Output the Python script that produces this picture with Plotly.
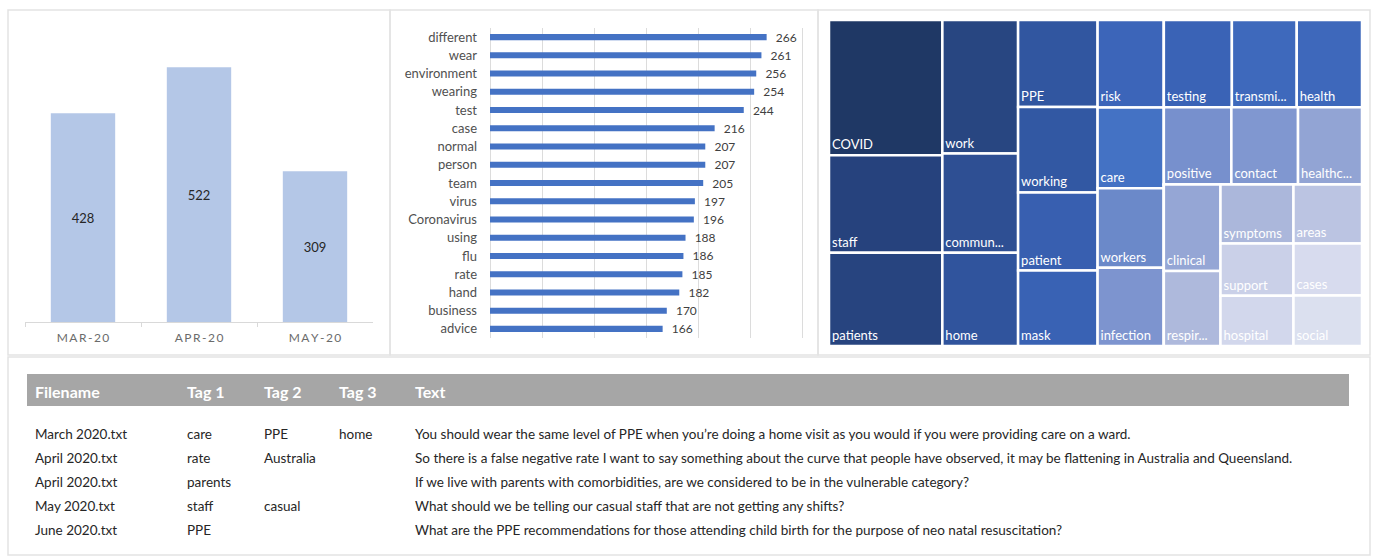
import plotly.graph_objects as go

W, H = 1373, 557
def px(x): return x / W
def py(y): return 1 - y / H

FONT = "Lato"

# ---------------- data ----------------
months = ["MAR-20", "APR-20", "MAY-20"]
month_counts = [428, 522, 309]

words = ["different", "wear", "environment", "wearing", "test", "case", "normal", "person",
         "team", "virus", "Coronavirus", "using", "flu", "rate", "hand", "business", "advice"]
word_counts = [266, 261, 256, 254, 244, 216, 207, 207, 205, 197, 196, 188, 186, 185, 182, 170, 166]

# treemap: groups (columns / rows) and leaves
tm_groups = ["g1", "g2", "g3", "g4", "g5", "g5r1", "g5r2", "g5r3", "g5r3a", "g5r3b", "g5r3c"]
tm_group_parents = ["", "", "", "", "", "g5", "g5", "g5", "g5r3", "g5r3", "g5r3"]
tm_labels = ["COVID", "staff", "patients",
             "work", "commun...", "home",
             "PPE", "working", "patient", "mask",
             "risk", "care", "workers", "infection",
             "testing", "transmi...", "health",
             "positive", "contact", "healthc...",
             "clinical", "respir...",
             "symptoms", "support", "hospital",
             "areas", "cases", "social"]
tm_parents = ["g1"] * 3 + ["g2"] * 3 + ["g3"] * 4 + ["g4"] * 4 + ["g5r1"] * 3 + ["g5r2"] * 3 + \
             ["g5r3a"] * 2 + ["g5r3b"] * 3 + ["g5r3c"] * 3
tm_values = [447, 323, 308,
             295, 219, 206,
             202, 198, 181, 175,
             169, 156, 154, 151,
             173, 165, 166,
             152, 150, 144,
             143, 124,
             126, 111, 107,
             118, 104, 101]

tbl_cols = ["Filename", "Tag 1", "Tag 2", "Tag 3", "Text"]
tbl_filename = ["March 2020.txt", "April 2020.txt", "April 2020.txt", "May 2020.txt", "June 2020.txt"]
tbl_tag1 = ["care", "rate", "parents", "staff", "PPE"]
tbl_tag2 = ["PPE", "Australia", "", "casual", ""]
tbl_tag3 = ["home", "", "", "", ""]
tbl_text = [
    "You should wear the same level of PPE when you\u2019re doing a home visit as you would if you were providing care on a ward.",
    "So there is a false negative rate I want to say something about the curve that people have observed, it may be flattening in Australia and Queensland.",
    "If we live with parents with comorbidities, are we considered to be in the vulnerable category?",
    "What should we be telling our casual staff that are not getting any shifts?",
    "What are the PPE recommendations for those attending child birth for the purpose of neo natal resuscitation?",
]

# ---------------- figure ----------------
fig = go.Figure()

# Chart 1: monthly counts
fig.add_trace(go.Bar(
    x=months, y=month_counts, xaxis="x", yaxis="y",
    marker=dict(color="#b4c7e7", line=dict(width=0)), width=0.555,
    text=month_counts, textposition="inside", insidetextanchor="middle",
    textfont=dict(family=FONT, size=13, color="#262626"), hoverinfo="x+y", showlegend=False,
))

# Chart 2: word frequency
fig.add_trace(go.Bar(
    x=word_counts, y=words, orientation="h", xaxis="x2", yaxis="y2",
    marker=dict(color="#4472c4", line=dict(width=0)), width=0.33,
    text=word_counts, texttemplate="\u00a0\u00a0%{x}", textposition="outside", cliponaxis=False,
    constraintext="none",
    textfont=dict(family=FONT, size=12, color="#404040"), showlegend=False,
))

# Chart 3: treemap
ids = tm_groups + tm_labels
parents = tm_group_parents + tm_parents
values = [0] * len(tm_groups) + tm_values
color_vals = [450] * len(tm_groups) + tm_values
texts = [""] * len(tm_groups) + tm_labels
fig.add_trace(go.Treemap(
    ids=ids, labels=ids, parents=parents, values=values, text=texts,
    texttemplate="%{text}", textposition="bottom left",
    textfont=dict(family=FONT, size=13, color="white"),
    sort=False, branchvalues="remainder",
    tiling=dict(packing="slice-dice", pad=0),
    pathbar=dict(visible=False),
    marker=dict(colors=color_vals, cmin=100, cmax=450, showscale=False,
                colorscale=[[0.0, "#dde1f0"], [0.02, "#d2d7ec"], [0.07, "#adb8dc"],
                            [0.12, "#98a8d6"], [0.145, "#7e95cf"], [0.155, "#6a88c9"],
                            [0.16, "#4472c4"], [0.2, "#3b64b8"], [0.29, "#3156a0"],
                            [0.35, "#2d4e90"], [0.57, "#284580"], [0.7, "#25407a"],
                            [1.0, "#1f3864"]],
                line=dict(color="white", width=2.5),
                pad=dict(t=0, l=0, r=0, b=0)),
    domain=dict(x=[px(829), px(1362)], y=[py(346), py(20)]),
    hoverinfo="text",
))

colw = [152, 77, 75, 76, 941]
# Table body
fig.add_trace(go.Table(
    domain=dict(x=[px(27), px(1348)], y=[py(552), py(405)]),
    columnwidth=colw,
    header=dict(values=["", "", "", "", ""], fill_color="white", line_color="white", height=16,
                font=dict(family=FONT, size=6, color="white")),
    cells=dict(values=[tbl_filename, tbl_tag1, tbl_tag2, tbl_tag3, tbl_text],
               fill_color="white", line_color="white", height=24, align="left",
               font=dict(family=FONT, size=13.5, color="#262626")),
))
# Table header bar
fig.add_trace(go.Table(
    domain=dict(x=[px(27), px(1348)], y=[py(406), py(374)]),
    columnwidth=colw,
    header=dict(values=["<b>%s</b>" % c for c in tbl_cols], fill_color="#a6a6a6",
                line_color="#a6a6a6", height=31, align="left",
                font=dict(family=FONT, size=16, color="white")),
    cells=dict(values=[[""] for _ in tbl_cols], fill_color="white", line_color="white", height=2),
))

# panel frames
panels = [(8, 10, 390, 355), (390, 10, 818, 355), (818, 10, 1370, 355), (8, 357, 1370, 555)]
shapes = [dict(type="rect", xref="paper", yref="paper", x0=px(a), x1=px(c), y0=py(d), y1=py(b),
               line=dict(color="#e3e3e3", width=1.5), fillcolor="rgba(0,0,0,0)", layer="below")
          for a, b, c, d in panels]

fig.update_layout(
    width=W, height=H, margin=dict(l=0, r=0, t=0, b=0),
    paper_bgcolor="white", plot_bgcolor="rgba(0,0,0,0)",
    font=dict(family=FONT), shapes=shapes, showlegend=False,
    xaxis=dict(domain=[px(25), px(373)], type="category", range=[-0.5, 2.5],
               categoryorder="array", categoryarray=months,
               tickvals=months, ticktext=["\u2009".join(m) for m in months],
               showline=True, linecolor="#d9d9d9", linewidth=1,
               ticks="outside", tickson="boundaries", ticklen=4, tickcolor="#d9d9d9",
               ticklabelstandoff=5,
               tickfont=dict(family=FONT, size=12, color="#6b6b6b"), showgrid=False,
               fixedrange=True),
    yaxis=dict(domain=[py(322), py(40)], range=[0, 578], visible=False, fixedrange=True),
    xaxis2=dict(domain=[px(490), px(490 + 1.04 * 310)], range=[0, 310], anchor="y2",
                showgrid=True, gridcolor="#dcdcdc", gridwidth=1, tick0=0, dtick=50,
                zeroline=True, zerolinecolor="#dcdcdc", zerolinewidth=1,
                showticklabels=False, showline=False, fixedrange=True),
    yaxis2=dict(domain=[py(338), py(28)], anchor="x2", type="category",
                categoryorder="array", categoryarray=words, range=[16.5, -0.5],
                ticks="", ticklabelstandoff=12, showgrid=False,
                tickfont=dict(family=FONT, size=13, color="#505050"), fixedrange=True),
)

fig.write_html("out.html")
